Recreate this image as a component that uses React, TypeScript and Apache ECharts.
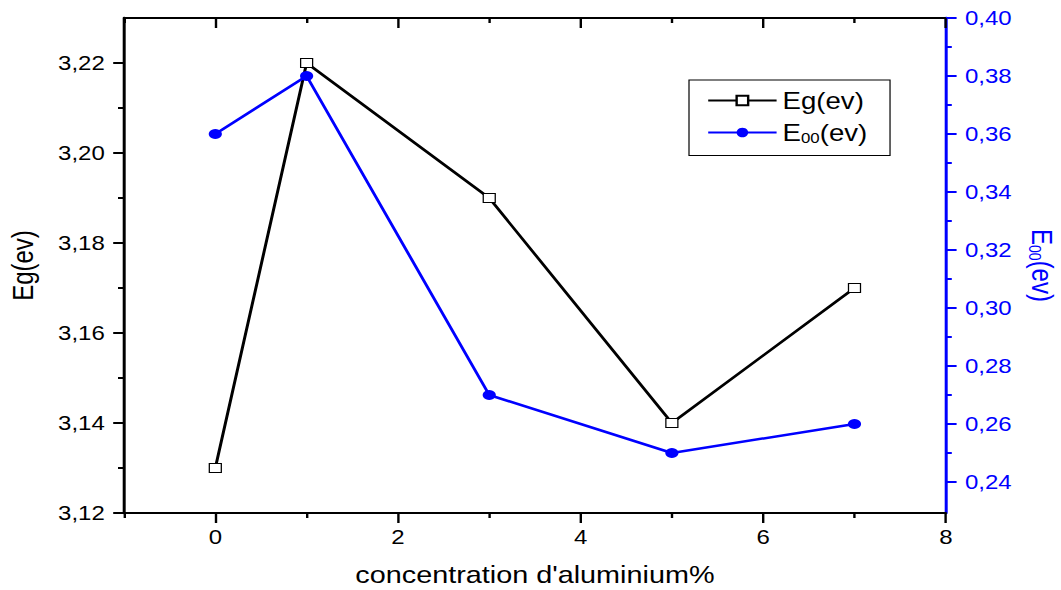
import React, { useEffect, useRef } from "react";
import * as echarts from "echarts";

const xValues = [0, 1, 3, 5, 7];
const egValues = [3.13, 3.22, 3.19, 3.14, 3.17];
const e00Values = [0.36, 0.38, 0.27, 0.25, 0.26];

const xMajorTicks = [0, 2, 4, 6, 8];
const xMinorTicks = [-1, 1, 3, 5, 7];
const leftMajorTicks = [3.12, 3.14, 3.16, 3.18, 3.2, 3.22];
const leftMinorTicks = [3.13, 3.15, 3.17, 3.19, 3.21];
const rightMajorTicks = [0.24, 0.26, 0.28, 0.3, 0.32, 0.34, 0.36, 0.38, 0.4];
const rightMinorTicks = [0.25, 0.27, 0.29, 0.31, 0.33, 0.35, 0.37, 0.39];

const FONT = "Liberation Sans, Arial, sans-serif";
const BLUE = "#0000ff";
const SX = 1.2; // the reference figure is stretched horizontally
const W = 1061 / SX;
const H = 590;
const gridRect = { left: 124 / SX, right: 115 / SX, top: 18, bottom: 77, outerBoundsMode: "none", containLabel: false };
const comma = (v: number) => v.toFixed(2).replace(".", ",");

export default function App() {
  const ref = useRef<HTMLDivElement>(null);
  useEffect(() => {
    if (!ref.current) return;
    const chart = echarts.init(ref.current, undefined, { renderer: "svg" });
    const hLine = { show: true, onZero: false, lineStyle: { color: "#000", width: 2 } };
    const noLine = { show: false, onZero: false };
    const xBase = { type: "value", min: -1, max: 8, interval: 1, splitLine: { show: false } };
    const yLeftBase = { type: "value", min: 3.12, max: 3.23, splitLine: { show: false } };
    const yRightBase = { type: "value", min: 0.2293, max: 0.4, splitLine: { show: false } };
    const sub = { fontSize: 14, fontFamily: FONT, padding: [12, 0, 0, 0] };
    chart.setOption({
      animation: false,
      backgroundColor: "#fff",
      grid: [{ ...gridRect }, { ...gridRect }],
      xAxis: [
        {
          ...xBase,
          gridIndex: 0,
          position: "bottom",
          axisLine: hLine,
          axisTick: { show: true, customValues: xMajorTicks, length: 10, lineStyle: { color: "#000", width: 2 } },
          axisLabel: { customValues: xMajorTicks, fontSize: 20, color: "#000", fontFamily: FONT, margin: 14 },
          name: "concentration d'aluminium%",
          nameLocation: "middle",
          nameGap: 50,
          nameTextStyle: { fontSize: 24, color: "#000", fontFamily: FONT },
        },
        {
          ...xBase,
          gridIndex: 0,
          position: "top",
          axisLine: hLine,
          axisTick: { show: true, inside: true, customValues: xMajorTicks, length: 10, lineStyle: { color: "#000", width: 2 } },
          axisLabel: { show: false },
        },
        {
          ...xBase,
          gridIndex: 1,
          position: "bottom",
          axisLine: noLine,
          axisTick: { show: true, customValues: xMinorTicks, length: 5, lineStyle: { color: "#000", width: 2 } },
          axisLabel: { show: false },
        },
        {
          ...xBase,
          gridIndex: 1,
          position: "top",
          axisLine: noLine,
          axisTick: { show: true, inside: true, customValues: xMinorTicks, length: 5, lineStyle: { color: "#000", width: 2 } },
          axisLabel: { show: false },
        },
      ],
      yAxis: [
        {
          ...yLeftBase,
          gridIndex: 0,
          position: "left",
          axisLine: { show: true, onZero: false, lineStyle: { color: "#000", width: 2.5 } },
          axisTick: { show: true, customValues: leftMajorTicks, length: 9, lineStyle: { color: "#000", width: 2 } },
          axisLabel: { customValues: leftMajorTicks, formatter: comma, fontSize: 20, color: "#000", fontFamily: FONT, margin: 16 },
          name: "Eg(ev)",
          nameLocation: "middle",
          nameGap: 72,
          nameRotate: 90,
          nameTextStyle: { fontSize: 24, color: "#000", fontFamily: FONT },
        },
        {
          ...yRightBase,
          gridIndex: 0,
          position: "right",
          axisLine: { show: true, onZero: false, lineStyle: { color: BLUE, width: 2.5 } },
          axisTick: { show: true, customValues: rightMajorTicks, length: 9, lineStyle: { color: BLUE, width: 2 } },
          axisLabel: { customValues: rightMajorTicks, formatter: comma, fontSize: 20, color: BLUE, fontFamily: FONT, margin: 16 },
          name: "{a|E}{b|00}{a|(ev)}",
          nameLocation: "middle",
          nameGap: 67,
          nameRotate: -90,
          nameTextStyle: {
            color: BLUE,
            fontFamily: FONT,
            rich: {
              a: { fontSize: 24, color: BLUE, fontFamily: FONT },
              b: { ...sub, color: BLUE },
            },
          },
        },
        {
          ...yLeftBase,
          gridIndex: 1,
          position: "left",
          axisLine: noLine,
          axisTick: { show: true, customValues: leftMinorTicks, length: 5, lineStyle: { color: "#000", width: 2 } },
          axisLabel: { show: false },
        },
        {
          ...yRightBase,
          gridIndex: 1,
          position: "right",
          axisLine: noLine,
          axisTick: { show: true, customValues: rightMinorTicks, length: 5, lineStyle: { color: BLUE, width: 2 } },
          axisLabel: { show: false },
        },
      ],
      legend: {
        left: 689 / SX,
        top: 80,
        orient: "vertical",
        backgroundColor: "#fff",
        borderColor: "#000",
        borderWidth: 1,
        borderRadius: 0,
        padding: [9, 19, 10, 15],
        itemGap: 9,
        itemWidth: 57,
        itemHeight: 12,
        data: ["Eg(ev)", "E00(ev)"],
        formatter: (name: string) => (name === "E00(ev)" ? "{a|E}{b|00}{a|(ev)}" : "{a|Eg(ev)}"),
        textStyle: {
          color: "#000",
          fontFamily: FONT,
          rich: {
            a: { fontSize: 23, color: "#000", fontFamily: FONT },
            b: { ...sub, color: "#000" },
          },
        },
      },
      series: [
        {
          name: "Eg(ev)",
          type: "line",
          xAxisIndex: 0,
          yAxisIndex: 0,
          data: xValues.map((x, i) => [x, egValues[i]]),
          symbol: "rect",
          symbolSize: [10, 9],
          showAllSymbol: true,
          lineStyle: { color: "#000", width: 2.5 },
          itemStyle: { color: "#fff", borderColor: "#000", borderWidth: 1 },
          z: 2,
        },
        {
          name: "E00(ev)",
          type: "line",
          xAxisIndex: 0,
          yAxisIndex: 1,
          data: xValues.map((x, i) => [x, e00Values[i]]),
          symbol: "circle",
          symbolSize: [11, 10],
          showAllSymbol: true,
          lineStyle: { color: BLUE, width: 2.5 },
          itemStyle: { color: BLUE, borderColor: BLUE, borderWidth: 0 },
          z: 3,
        },
      ],
    });
    return () => chart.dispose();
  }, []);
  return (
    <div style={{ position: "fixed", left: 0, top: 0, width: 1061, height: H, background: "#fff", overflow: "hidden" }}>
      <div
        ref={ref}
        style={{ width: W, height: H, transform: `scaleX(${SX})`, transformOrigin: "0 0" }}
      />
    </div>
  );
}
